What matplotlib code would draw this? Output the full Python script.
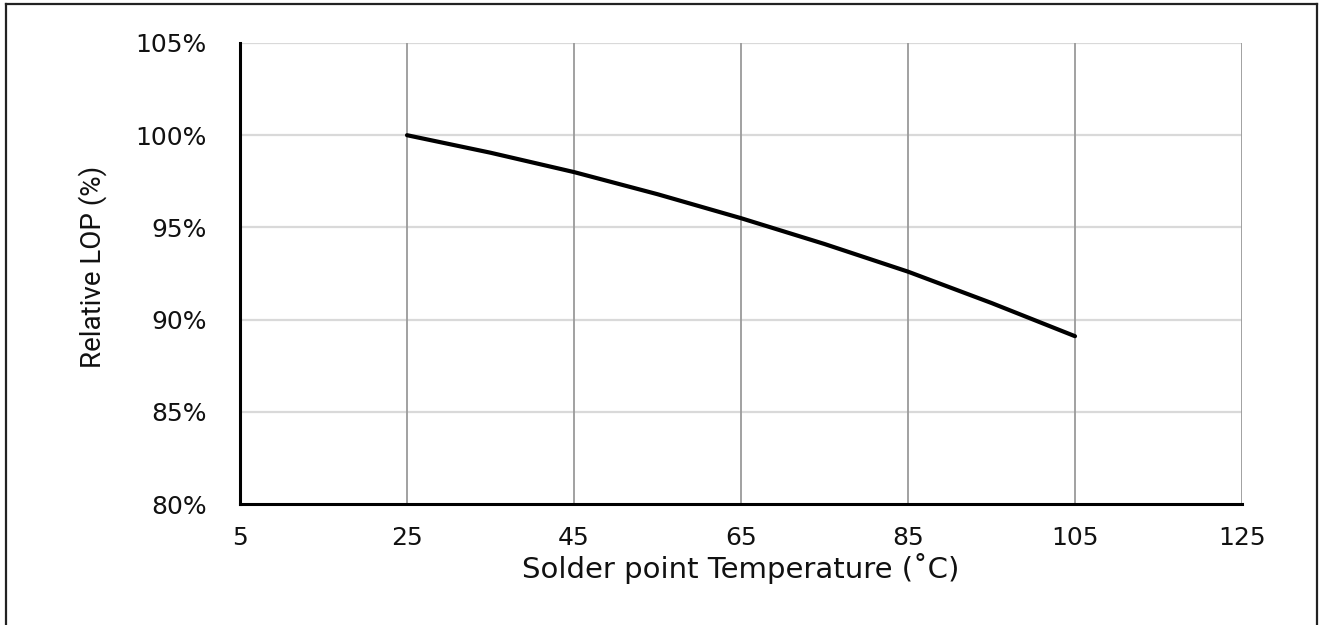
import matplotlib
matplotlib.use("Agg")
import matplotlib.pyplot as plt
from matplotlib.lines import Line2D
from matplotlib.ticker import FuncFormatter

temps = [25, 35, 45, 55, 65, 75, 85, 95, 105]
lop = [100.0, 99.05, 98.0, 96.8, 95.5, 94.1, 92.6, 90.9, 89.1]
xticks = [5, 25, 45, 65, 85, 105, 125]
yticks = [80, 85, 90, 95, 100, 105]

fig = plt.figure(figsize=(13.2, 6.25), dpi=100)
ax = fig.add_axes([240/1320, 1-504/625, (1242-240)/1320, (504-43)/625])

ax.set_xlim(5, 125)
ax.set_ylim(80, 105)
ax.set_xticks(xticks)
ax.set_yticks(yticks)
ax.yaxis.set_major_formatter(FuncFormatter(lambda v, p: f"{int(v)}%"))

for x in xticks[1:]:
    ax.axvline(x, color="#9a9a9a", lw=1.3, zorder=1)
for y in yticks[1:]:
    ax.axhline(y, color="#d9d9d9", lw=1.6, zorder=0.5)

ax.plot(temps, lop, color="black", lw=3, solid_capstyle="round", zorder=3)

for s in ["top", "right"]:
    ax.spines[s].set_visible(False)
ax.spines["left"].set_linewidth(2.2)
ax.spines["bottom"].set_linewidth(2.2)
ax.spines["left"].set_zorder(4)
ax.spines["bottom"].set_zorder(4)

ax.tick_params(length=0, labelsize=18, pad=0, labelcolor="#111111")
ax.tick_params(axis="y", pad=24)
ax.tick_params(axis="x", pad=16)
for lab in ax.get_xticklabels() + ax.get_yticklabels():
    lab.set_fontfamily("DejaVu Sans")

ax.set_xlabel("Solder point Temperature (˚C)", fontsize=21, family="DejaVu Sans",
              color="#111111")
ax.xaxis.set_label_coords(0.5, -0.106)
ax.set_ylabel("Relative LOP (%)", fontsize=20, family="Roboto", color="#111111")
ax.yaxis.set_label_coords(-0.133, 0.514)

# figure frame
fig.add_artist(Line2D([6/1320, 6/1320], [0, 1-4/625], color="#222222", lw=1.6))
fig.add_artist(Line2D([6/1320, 1317/1320], [1-4/625, 1-4/625], color="#222222", lw=1.6))
fig.add_artist(Line2D([1317/1320, 1317/1320], [0, 1-4/625], color="#222222", lw=1.6))

fig.savefig("out.png", dpi=100)
